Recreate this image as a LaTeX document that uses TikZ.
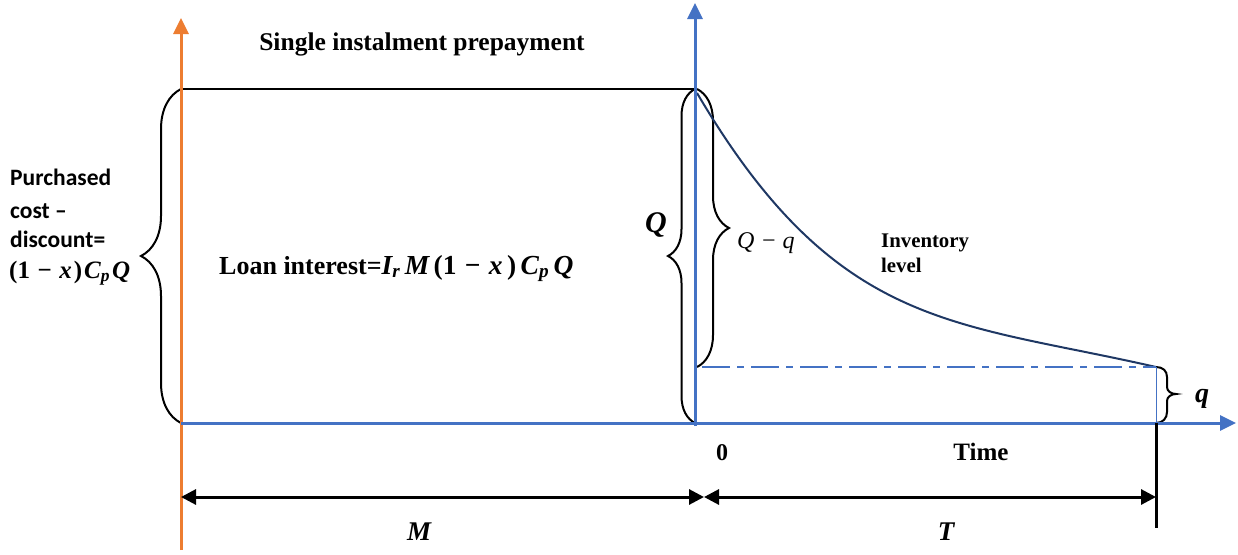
\documentclass[tikz,border=0pt]{standalone}
\usepackage{fontspec}
\setmainfont{Liberation Serif}
\newfontfamily\carl{Carlito}
\usetikzlibrary{arrows.meta,decorations.pathreplacing}
\definecolor{orng}{HTML}{ED7D31}
\definecolor{blu}{HTML}{4472C4}
\definecolor{navy}{HTML}{1F3864}
\newcommand\bi[1]{{\bfseries\itshape #1}}
\newcommand\bsb[1]{\textsubscript{\bfseries\itshape #1}}
\newcommand\mns{\kern0.3em−\kern0.3em}
\newcommand\mnsb{\kern0.25em−\kern0.25em}
\newcommand\kk{\kern2pt}
\newcommand\kl{\kern4.5pt}
\begin{document}
\begin{tikzpicture}[x=1pt,y=-1pt,
  axisO/.style={draw=orng,line width=3pt,-{Triangle[length=16pt,width=15pt]}},
  axisB/.style={draw=blu,line width=3pt,-{Triangle[length=16pt,width=15pt]}},
  bracestyle/.style={draw=black,line width=2pt,decorate,decoration={brace,amplitude=#1}},
  dimline/.style={line width=3pt,{Triangle[length=15pt,width=15pt]}-{Triangle[length=15pt,width=15pt]}},
  sertxt/.style={inner sep=0pt,font=\bfseries\fontsize{#1}{30}\selectfont},
  lt/.style={inner sep=0pt,anchor=base west,font=\carl\bfseries\fontsize{23.5}{26}\selectfont},
  mathlab/.style={inner sep=0pt,anchor=base,font=\bfseries\itshape\fontsize{#1}{30}\selectfont}]
\useasboundingbox (0,0) rectangle (1238,554);
% coordinates
\coordinate (ob) at (181,550);
\coordinate (ot) at (181,18);
\coordinate (bb) at (695,426);
\coordinate (bt) at (695,3);
\coordinate (h0) at (181,423);
\coordinate (h1) at (1236,423);
\coordinate (tl0) at (181,89);
\coordinate (tl1) at (695,89);
\coordinate (qa) at (697,89);
\coordinate (qb) at (697,367);
\coordinate (cs) at (697,93);
\coordinate (dd0) at (702,367);
\coordinate (dd1) at (1156,367);
\coordinate (e0) at (1156,423);
\coordinate (e1) at (1156,528);
\coordinate (m0) at (181,497);
\coordinate (m1) at (704,497);
\coordinate (t1) at (1156,497);
% braces
\draw[bracestyle=40] (h0) -- (tl0);
\draw[bracestyle=27] (695,423) -- (tl1);
\draw[bracestyle=32] (qa) -- (qb);
\draw[black,line width=2pt] (dd1) .. controls (1163,367) and (1167,371) .. (1167,377) -- (1167,387)
  .. controls (1167,391) and (1171,394) .. (1176,394)
  .. controls (1171,394) and (1167,397) .. (1167,401) -- (1167,412)
  .. controls (1167,418) and (1163,423) .. (e0);
% top line
\draw[black,line width=2pt] (tl0) -- (tl1);
% curve
\draw[navy,line width=2pt] (cs) .. controls (837,331) and (955,321) .. (dd1);
% dash dot level
\draw[blu,line width=2pt,dash pattern=on 28pt off 7pt on 7pt off 7pt] (dd0) -- (dd1);
\draw[blu,line width=0.8pt] (dd1) -- (e0);
% axes
\draw[axisO] (ob) -- (ot);
\draw[axisB] (h0) -- (h1);
\draw[axisB] (bb) -- (bt);
% dimension lines
\draw[black,line width=3pt] (e0) -- (e1);
\draw[dimline] (m0) -- (m1);
\draw[dimline] (m1) -- (t1);
% texts
\node[sertxt=25.5] (title) at (422,44) {Single instalment prepayment};
\node[sertxt=26,anchor=base west] (loan) at (219,274) {Loan interest={\fontsize{27.5}{30}\selectfont\bi{I}\bsb{r}\kl\bi{M}\kl(1\mns\bi{x}\kl)\kl\bi{C}\bsb{p}\kl\bi{Q}}};
\node[lt] (p1) at (10,185) {Purchased};
\node[lt] (p2) at (10,218) {cost –};
\node[lt] (p3) at (10,247) {discount=};
\node[sertxt=25,anchor=base west] (p4) at (9,278) {(1\mns\bi{x}\kk)\kk\bi{C}\bsb{p}\kk\bi{Q}};
\node[mathlab=30] (Qlab) at (656,232) {Q};
\node[inner sep=0pt,anchor=base west,font=\itshape\fontsize{24}{26}\selectfont] (Qq) at (737,248) {Q\mnsb q};
\node[sertxt=20.8,anchor=base west] (inv1) at (881,247) {Inventory};
\node[sertxt=20.8,anchor=base west] (inv2) at (881,272) {level};
\node[sertxt=24,anchor=base] (zero) at (722,460) {0};
\node[sertxt=25,anchor=base] (time) at (981,460) {Time};
\node[mathlab=27] (Mlab) at (419,540) {M};
\node[mathlab=27] (Tlab) at (946,540) {T};
\node[mathlab=28] (qlab) at (1202,402) {q};
\end{tikzpicture}
\end{document}
